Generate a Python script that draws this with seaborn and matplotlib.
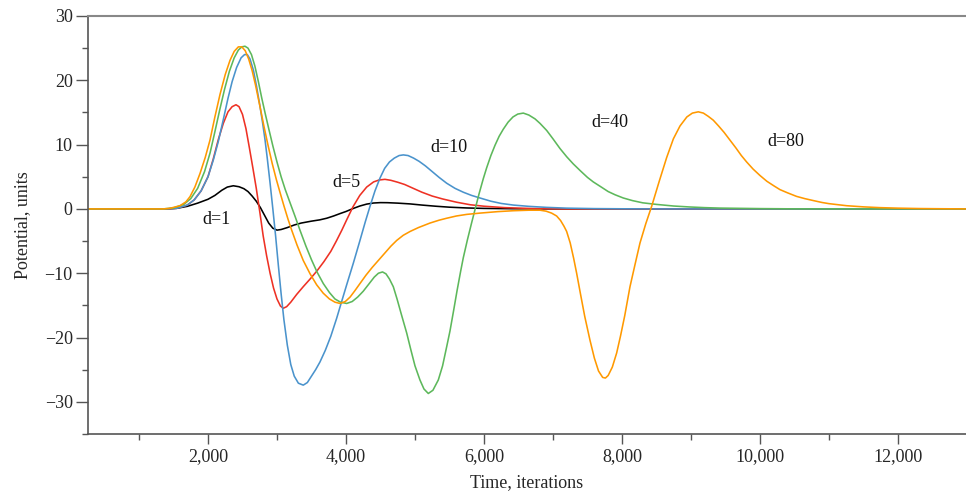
import numpy as np
import pandas as pd
import matplotlib
matplotlib.use("Agg")
import matplotlib.pyplot as plt
import seaborn as sns
from matplotlib.ticker import FuncFormatter, MultipleLocator

# ---- data ----
series_names = ["d=1", "d=5", "d=10", "d=40", "d=80"]

t_d1 = [261, 1400, 1550, 1700, 1850, 2000, 2100, 2200, 2280, 2367, 2450, 2520, 2580, 2640, 2700, 2760,
        2820, 2880, 2940, 3000, 3060, 3150, 3250, 3350, 3500, 3620, 3720, 3820, 3920, 4000, 4100, 4200,
        4300, 4400, 4500, 4600, 4750, 4928, 5100, 5300, 5500, 5750, 6000, 6500, 7000, 13000]
v_d1 = [0, 0, 0.1, 0.4, 0.9, 1.5, 2.1, 2.9, 3.4, 3.6, 3.45, 3.15, 2.7, 2.0, 1.2, 0.2,
        -1.0, -2.2, -3.0, -3.3, -3.2, -2.9, -2.5, -2.2, -1.9, -1.7, -1.45, -1.1, -0.7, -0.4, 0.05, 0.45,
        0.75, 0.92, 0.98, 0.97, 0.9, 0.78, 0.6, 0.42, 0.27, 0.15, 0.08, 0.02, 0, 0]

t_d5 = [261, 1400, 1550, 1700, 1800, 1900, 2000, 2077, 2150, 2222, 2290, 2350, 2406, 2450, 2500, 2550,
        2600, 2650, 2700, 2754, 2800, 2850, 2900, 2950, 3000, 3050, 3091, 3140, 3200, 3285, 3380, 3480,
        3575, 3680, 3780, 3860, 3940, 4010, 4100, 4200, 4300, 4400, 4480, 4565, 4650, 4750, 4850, 4975,
        5100, 5250, 5400, 5600, 5800, 6000, 6300, 6700, 7200, 13000]
v_d5 = [0, 0, 0.1, 0.6, 1.4, 2.8, 5.0, 7.8, 10.8, 13.3, 15.1, 15.9, 16.2, 15.9, 14.7, 12.5,
        9.5, 6.4, 3.2, -0.7, -4.2, -7.3, -10.0, -12.3, -14.0, -15.1, -15.45, -15.2, -14.5, -13.3, -12.1, -10.9,
        -9.7, -8.2, -6.6, -5.0, -3.3, -1.7, 0.3, 2.1, 3.4, 4.2, 4.5, 4.6, 4.45, 4.15, 3.8, 3.2,
        2.6, 2.0, 1.55, 1.05, 0.65, 0.42, 0.2, 0.06, 0, 0]

t_d10 = [261, 1400, 1550, 1700, 1800, 1900, 2000, 2077, 2150, 2222, 2290, 2350, 2415, 2480, 2530, 2570,
         2610, 2660, 2705, 2750, 2790, 2826, 2860, 2900, 2940, 2980, 3020, 3060, 3100, 3150, 3200, 3250,
         3310, 3381, 3440, 3500, 3560, 3623, 3700, 3780, 3865, 3940, 4010, 4106, 4200, 4280, 4348, 4420,
         4493, 4560, 4630, 4700, 4770, 4831, 4900, 4980, 5060, 5150, 5250, 5350, 5459, 5580, 5700, 5820,
         5942, 6100, 6250, 6425, 6650, 6909, 7200, 7600, 8000, 8500, 13000]
v_d10 = [0, 0, 0.1, 0.6, 1.4, 2.8, 5.0, 7.6, 10.5, 13.9, 17.2, 19.8, 22.0, 23.5, 24.0, 24.0,
         23.3, 21.5, 19.0, 16.2, 13.5, 10.8, 7.8, 4.0, 0.0, -4.2, -8.8, -13.2, -17.2, -21.2, -24.2, -26.0,
         -27.1, -27.4, -27.0, -26.0, -25.0, -23.8, -22.0, -19.8, -17.0, -14.3, -11.8, -8.45, -5.0, -2.0, 0.4, 2.8,
         4.8, 6.3, 7.3, 7.9, 8.3, 8.4, 8.3, 7.9, 7.4, 6.7, 5.8, 4.9, 4.0, 3.2, 2.6, 2.1,
         1.7, 1.2, 0.85, 0.6, 0.4, 0.24, 0.12, 0.05, 0.02, 0, 0]

t_d40 = [261, 1350, 1500, 1650, 1750, 1850, 1950, 2030, 2100, 2170, 2240, 2310, 2380, 2440, 2490, 2536,
         2580, 2630, 2680, 2730, 2780, 2830, 2880, 2940, 3000, 3060, 3120, 3188, 3260, 3333, 3420, 3500,
         3580, 3671, 3760, 3840, 3920, 4010, 4090, 4170, 4250, 4330, 4410, 4470, 4530, 4580, 4630, 4686,
         4740, 4800, 4880, 4940, 5000, 5072, 5130, 5193, 5260, 5338, 5400, 5460, 5507, 5560, 5610, 5660,
         5700, 5760, 5820, 5870, 5930, 5990, 6039, 6100, 6160, 6220, 6280, 6350, 6420, 6490, 6570, 6650,
         6740, 6812, 6909, 7000, 7101, 7200, 7294, 7400, 7500, 7584, 7700, 7800, 7900, 8019, 8150, 8300,
         8502, 8750, 8986, 9200, 9420, 10000, 10500, 13000]
v_d40 = [0, 0, 0.15, 0.7, 1.6, 3.2, 5.8, 8.7, 12.0, 15.4, 18.6, 21.4, 23.5, 24.7, 25.2, 25.3,
         25.0, 24.0, 22.2, 19.8, 17.2, 14.8, 12.5, 9.8, 7.3, 5.0, 3.0, 1.0, -1.1, -3.3, -5.8, -7.9,
         -9.8, -11.6, -13.0, -14.0, -14.5, -14.7, -14.4, -13.7, -12.8, -11.7, -10.6, -10.0, -9.8, -10.1, -10.9, -12.1,
         -14.0, -16.3, -19.3, -21.9, -24.4, -26.6, -28.0, -28.7, -28.2, -26.6, -24.4, -21.4, -19.0, -15.8, -12.7, -9.8,
         -7.6, -4.8, -2.2, -0.1, 2.4, 4.7, 6.4, 8.3, 9.9, 11.3, 12.4, 13.5, 14.3, 14.75, 14.9, 14.6,
         14.0, 13.3, 12.2, 10.9, 9.4, 8.1, 7.0, 5.9, 4.9, 4.2, 3.4, 2.7, 2.2, 1.7, 1.3, 0.95,
         0.7, 0.45, 0.3, 0.2, 0.13, 0.05, 0.01, 0]

t_d80 = [261, 1350, 1450, 1594, 1680, 1739, 1810, 1884, 1960, 2029, 2100, 2174, 2250, 2319, 2380, 2440,
         2490, 2540, 2590, 2640, 2690, 2754, 2810, 2870, 2930, 2990, 3043, 3100, 3160, 3213, 3290, 3380,
         3480, 3575, 3670, 3760, 3840, 3913, 3990, 4060, 4130, 4203, 4290, 4380, 4470, 4560, 4650, 4735,
         4830, 4930, 5050, 5217, 5350, 5459, 5600, 5750, 5942, 6200, 6425, 6650, 6812, 6900, 6980, 7053,
         7110, 7160, 7198, 7250, 7300, 7343, 7400, 7460, 7536, 7600, 7660, 7720, 7760, 7800, 7860, 7923,
         7980, 8040, 8116, 8190, 8261, 8345, 8430, 8540, 8648, 8745, 8841, 8940, 9020, 9106, 9180, 9250,
         9323, 9400, 9480, 9565, 9650, 9730, 9807, 9900, 10000, 10100, 10200, 10290, 10400, 10530, 10650,
         10773, 10900, 11000, 11256, 11500, 11739, 12000, 12300, 12600, 13000]
v_d80 = [0, 0, 0.1, 0.5, 1.1, 1.9, 3.4, 5.5, 8.0, 10.7, 14.3, 17.8, 20.9, 23.1, 24.5, 25.2,
         25.2, 24.6, 23.3, 21.5, 19.2, 15.9, 12.9, 9.9, 7.1, 4.6, 2.6, 0.5, -1.6, -3.3, -5.6, -8.0,
         -10.1, -11.8, -13.1, -14.0, -14.5, -14.7, -14.4, -13.7, -12.7, -11.6, -10.3, -9.1, -8.0, -6.9, -5.8, -4.9,
         -4.1, -3.5, -2.9, -2.2, -1.75, -1.45, -1.1, -0.85, -0.65, -0.42, -0.28, -0.2, -0.2, -0.35, -0.65, -1.1,
         -1.8, -2.7, -3.5, -5.3, -7.7, -10.0, -13.3, -16.7, -20.4, -23.2, -25.2, -26.2, -26.3, -25.9, -24.6, -22.4,
         -19.7, -16.6, -12.1, -8.6, -5.3, -2.3, 0.4, 4.3, 8.0, 10.9, 12.9, 14.3, 14.9, 15.1, 14.9, 14.4,
         13.8, 12.9, 11.9, 10.7, 9.5, 8.3, 7.3, 6.2, 5.2, 4.3, 3.6, 3.0, 2.5, 1.95, 1.6,
         1.3, 1.0, 0.82, 0.5, 0.32, 0.2, 0.12, 0.06, 0.03, 0]

label_x = [2130, 4010, 5493, 7826, 10377]
label_y = [-1.7, 4.1, 9.5, 13.4, 10.5]

x_ticks = [2000, 4000, 6000, 8000, 10000, 12000]
y_ticks = [-30, -20, -10, 0, 10, 20, 30]

# ---- build long-form table ----
frames = []
for name, t, v in zip(series_names,
                      [t_d1, t_d5, t_d10, t_d40, t_d80],
                      [v_d1, v_d5, v_d10, v_d40, v_d80]):
    frames.append(pd.DataFrame({"time": t, "potential": v, "series": name}))
df = pd.concat(frames, ignore_index=True)

palette = {"d=1": "#000000", "d=5": "#EE3124", "d=10": "#4A93CC",
           "d=40": "#5DB85B", "d=80": "#FF9900"}

sns.set_style("ticks")
plt.rcParams["font.family"] = ["Liberation Serif", "DejaVu Serif"]
plt.rcParams["axes.unicode_minus"] = True

fig = plt.figure(figsize=(9.66, 4.93), dpi=100)
ax = fig.add_axes([88 / 966, 59 / 493, (966 - 88) / 966, (434 - 16) / 493])

sns.lineplot(data=df, x="time", y="potential", hue="series", hue_order=series_names,
             palette=palette, estimator=None, sort=False, linewidth=1.15, legend=False, ax=ax)

for name, lx, ly in zip(series_names, label_x, label_y):
    ax.text(lx, ly, name, fontsize=13, ha="center", va="center", color="#111111")

ax.set_xlim(261, 12986)
ax.set_ylim(-35, 30)
ax.set_xticks(x_ticks)
ax.set_yticks(y_ticks)
ax.xaxis.set_minor_locator(MultipleLocator(2000, offset=1000))
ax.yaxis.set_minor_locator(MultipleLocator(10, offset=5))
ax.xaxis.set_major_formatter(FuncFormatter(lambda v, p: f"{int(v):,}"))

ax.set_xlabel("Time, iterations", fontsize=13)
ax.set_ylabel("Potential, units", fontsize=13)
ax.xaxis.set_label_coords(0.5, -0.097)
ax.yaxis.set_label_coords(-0.0645, 0.5)

ax.tick_params(axis="both", which="both", labelsize=13, color="#555555", width=1.0)
ax.tick_params(axis="y", which="major", length=9, pad=2)
ax.tick_params(axis="y", which="minor", length=4.5)
ax.tick_params(axis="x", which="major", length=7, pad=3)
ax.tick_params(axis="x", which="minor", length=4.5)

for side in ["left", "bottom"]:
    ax.spines[side].set_color("#555555")
    ax.spines[side].set_linewidth(1.2)
ax.spines["top"].set_visible(True)
ax.spines["top"].set_color("#888888")
ax.spines["top"].set_linewidth(1.5)
ax.spines["right"].set_visible(False)
ax.grid(False)

fig.savefig("out.png", dpi=100)
